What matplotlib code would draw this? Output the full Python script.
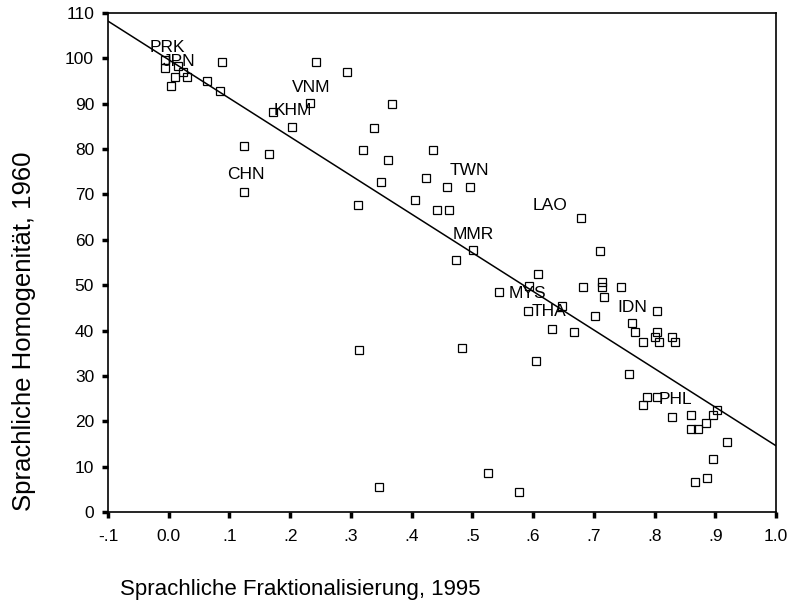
import matplotlib.pyplot as plt

plt.rcParams['font.family'] = ['Liberation Sans', 'DejaVu Sans']

# linguistic fractionalisation 1995 (x) vs linguistic homogeneity 1960 (y)
frak_1995 = [-0.006, 0.015, -0.006, 0.010, 0.030, 0.024, 0.004, 0.063, 0.085, 0.088,
             0.243, 0.294, 0.233, 0.203, 0.172, 0.124, 0.165, 0.124, 0.368, 0.338,
             0.320, 0.361, 0.435, 0.350, 0.424, 0.458, 0.496, 0.312, 0.406, 0.442,
             0.462, 0.501, 0.473, 0.711, 0.679, 0.608, 0.594, 0.544, 0.683, 0.714,
             0.714, 0.744, 0.717, 0.648, 0.592, 0.702, 0.804, 0.763, 0.768, 0.804,
             0.668, 0.631, 0.781, 0.808, 0.801, 0.829, 0.834, 0.483, 0.314, 0.605,
             0.758, 0.788, 0.804, 0.781, 0.829, 0.860, 0.897, 0.903, 0.884, 0.860,
             0.872, 0.920, 0.897, 0.887, 0.867, 0.346, 0.526, 0.577]
homog_1960 = [99.6, 98.3, 97.9, 95.9, 95.9, 97.0, 93.9, 95.0, 92.8, 99.2,
              99.2, 97.0, 90.2, 84.9, 88.2, 80.7, 78.9, 70.5, 89.9, 84.7,
              79.8, 77.6, 79.8, 72.8, 73.6, 71.6, 71.6, 67.7, 68.8, 66.6,
              66.6, 57.8, 55.6, 57.5, 64.8, 52.5, 49.8, 48.5, 49.6, 50.7,
              49.6, 49.6, 47.4, 45.4, 44.3, 43.2, 44.3, 41.7, 39.7, 39.7,
              39.7, 40.3, 37.5, 37.5, 38.6, 38.6, 37.5, 36.2, 35.7, 33.3,
              30.4, 25.4, 25.4, 23.6, 20.9, 21.4, 21.4, 22.5, 19.6, 18.3,
              18.3, 15.4, 11.7, 7.5, 6.6, 5.5, 8.6, 4.4]

# country labels
codes = ['PRK', 'JPN', 'VNM', 'KHM', 'CHN', 'TWN', 'LAO', 'MMR', 'MYS', 'THA', 'IDN', 'PHL']
code_x = [-0.031, -0.009, 0.203, 0.172, 0.096, 0.463, 0.600, 0.468, 0.559, 0.598, 0.739, 0.806]
code_y = [102.4, 99.2, 93.5, 88.4, 74.3, 75.2, 67.5, 61.1, 48.1, 44.3, 45.0, 24.9]

# fitted line y = a + b * x
fit_a = 99.7
fit_b = -85.1

x_ticks = [-0.1, 0.0, 0.1, 0.2, 0.3, 0.4, 0.5, 0.6, 0.7, 0.8, 0.9, 1.0]
x_labels = ['-.1', '0.0', '.1', '.2', '.3', '.4', '.5', '.6', '.7', '.8', '.9', '1.0']
y_ticks = list(range(0, 111, 10))

fig = plt.figure(figsize=(7.9, 6.09), dpi=100)
ax = fig.add_axes([108 / 790, 97 / 609, 668 / 790, 499 / 609])

line_x = [-0.1, 1.0]
ax.plot(line_x, [fit_a + fit_b * v for v in line_x], color='black', linewidth=1.1, zorder=2)
ax.plot(frak_1995, homog_1960, linestyle='none', marker='s', markersize=5.5,
        markerfacecolor='none', markeredgecolor='black', markeredgewidth=0.9, zorder=3)

for code, cx, cy in zip(codes, code_x, code_y):
    ax.text(cx, cy, code, fontsize=12.5, ha='left', va='center', zorder=4)

ax.set_xlim(-0.1, 1.0)
ax.set_ylim(0, 110)
ax.set_xticks(x_ticks)
ax.set_xticklabels(x_labels)
ax.set_yticks(y_ticks)
ax.tick_params(axis='both', direction='out', length=4, width=2.5, labelsize=12.5, pad=6)
ax.tick_params(axis='x', pad=8)
for spine in ax.spines.values():
    spine.set_linewidth(1.2)

fig.text(300 / 790, 1 - 590 / 609, 'Sprachliche Fraktionalisierung, 1995',
         fontsize=16, ha='center', va='center')
fig.text(24 / 790, 1 - 331 / 609, 'Sprachliche Homogenität, 1960',
         fontsize=18.5, ha='center', va='center', rotation=90)

plt.savefig('out.png', dpi=100)
plt.close()
